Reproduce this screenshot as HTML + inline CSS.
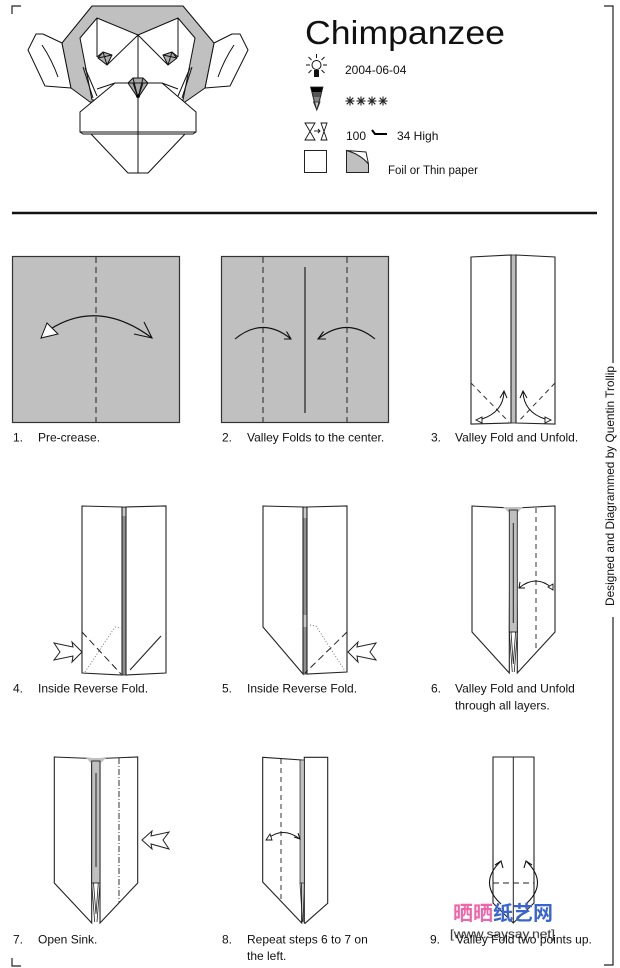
<!DOCTYPE html>
<html><head><meta charset="utf-8">
<style>
html,body{margin:0;padding:0;background:#fff;}
svg{display:block;}
text{font-family:"Liberation Sans",Arial,sans-serif;fill:#111;}
</style></head>
<body>
<svg width="620" height="968" viewBox="0 0 620 968" xmlns="http://www.w3.org/2000/svg">
<rect width="620" height="968" fill="#fff"/>

<!-- corner marks and frame -->
<g stroke="#222" stroke-width="1.2" fill="none">
<polyline points="21,6 12,6 12,14"/>
<polyline points="12,958 12,966 21,966"/>
<polyline points="604,6 613,6 613,363"/>
<polyline points="613,617 613,965 604,965"/>
</g>
<text transform="translate(614,606) rotate(-90)" font-size="12" textLength="240" lengthAdjust="spacingAndGlyphs">Designed and Diagrammed by Quentin Trollip</text>

<!-- ===== FACE ===== -->
<g stroke="#111" stroke-width="1" stroke-linejoin="round">
<polygon points="28,50 36,34 43,34 62,43 71,88 45,86" fill="#fff"/>
<path d="M42 45 Q52 60 58 77" fill="none"/>
<polygon points="248,50 240,34 232,34 214,43 205,88 230,86" fill="#fff"/>
<path d="M234 45 Q224 60 218 77" fill="none"/>
<polygon points="92,6 183,6 214,43 205,88 185,102 90,102 71,88 62,43" fill="#c0c0c0"/>
<polygon points="97,18 138,35 178,18 195,38 183,100 92,100 80,38" fill="#fff"/>
<line x1="97" y1="18" x2="97" y2="57"/>
<line x1="178" y1="18" x2="178" y2="57"/>
<line x1="138" y1="35" x2="107" y2="65"/>
<line x1="138" y1="35" x2="168" y2="65"/>
<line x1="97" y1="57" x2="103" y2="52"/>
<line x1="178" y1="57" x2="172" y2="52"/>
<line x1="85" y1="68" x2="97" y2="96"/>
<line x1="83" y1="67" x2="93" y2="98"/>
<line x1="190" y1="68" x2="178" y2="96"/>
<line x1="192" y1="67" x2="182" y2="98"/>
<line x1="115" y1="83" x2="97" y2="89"/>
<line x1="162" y1="83" x2="178" y2="89"/>
<polygon points="98,58 103,52 112,55 107,65" fill="#b0b0b0"/>
<line x1="103" y1="52" x2="107" y2="65"/>
<line x1="98" y1="58" x2="112" y2="55"/>
<polygon points="177,58 172,52 163,55 168,65" fill="#b0b0b0"/>
<line x1="172" y1="52" x2="168" y2="65"/>
<line x1="177" y1="58" x2="163" y2="55"/>
<polygon points="115,83 162,83 196,112 196,132 80,132 80,112" fill="#fff"/>
<polygon points="80,132 196,132 193,134 83,134" fill="#fff"/>
<polygon points="91,134 185,134 148,173 128,173" fill="#fff"/>
<line x1="138" y1="35" x2="138" y2="173"/>
<polygon points="128,83 133,78 143,78 148,83 138,98" fill="#aaa"/>
<polyline points="128,83 148,83" fill="none"/>
<polyline points="133,78 138,98 143,78" fill="none"/>
<polyline points="133,83 138,98 143,83" fill="none"/>
<circle cx="138" cy="96" r="1.5" fill="#000"/>
</g>

<!-- ===== HEADER ===== -->
<text x="305" y="44" font-size="33" textLength="200" lengthAdjust="spacingAndGlyphs">Chimpanzee</text>
<!-- bulb -->
<g stroke="#111" stroke-width="1" fill="none">
<circle cx="316.5" cy="65" r="4.5" fill="#fff"/>
<line x1="316.5" y1="54" x2="316.5" y2="58"/>
<line x1="306" y1="65" x2="310" y2="65"/>
<line x1="323" y1="65" x2="327" y2="65"/>
<line x1="308.5" y1="57" x2="311.5" y2="60"/>
<line x1="324.5" y1="57" x2="321.5" y2="60"/>
<line x1="308.5" y1="73" x2="311.5" y2="70"/>
<line x1="324.5" y1="73" x2="321.5" y2="70"/>
</g>
<rect x="314" y="70" width="5" height="7" fill="#111"/>
<text x="345" y="74" font-size="12">2004-06-04</text>
<!-- funnel -->
<polygon points="310.5,87 323,87 322,92 311.5,92" fill="#000"/>
<polygon points="311.5,92 322,92 321,97 312.5,97" fill="#555"/>
<polygon points="312.5,97 321,97 320,102 313.5,102" fill="#888"/>
<polygon points="313.5,102 320,102 316.8,110" fill="#c8c8c8" stroke="#222" stroke-width="0.8"/>
<polygon points="310.5,87 323,87 316.8,110" fill="none" stroke="#222" stroke-width="0.8"/>
<!-- asterisks -->
<g stroke="#222" stroke-width="1.1">
<g transform="translate(350,101)"><line x1="-4.5" y1="0" x2="4.5" y2="0"/><line x1="0" y1="-4.5" x2="0" y2="4.5"/><line x1="-3.3" y1="-3.3" x2="3.3" y2="3.3"/><line x1="-3.3" y1="3.3" x2="3.3" y2="-3.3"/></g>
<g transform="translate(361,101)"><line x1="-4.5" y1="0" x2="4.5" y2="0"/><line x1="0" y1="-4.5" x2="0" y2="4.5"/><line x1="-3.3" y1="-3.3" x2="3.3" y2="3.3"/><line x1="-3.3" y1="3.3" x2="3.3" y2="-3.3"/></g>
<g transform="translate(372,101)"><line x1="-4.5" y1="0" x2="4.5" y2="0"/><line x1="0" y1="-4.5" x2="0" y2="4.5"/><line x1="-3.3" y1="-3.3" x2="3.3" y2="3.3"/><line x1="-3.3" y1="3.3" x2="3.3" y2="-3.3"/></g>
<g transform="translate(383,101)"><line x1="-4.5" y1="0" x2="4.5" y2="0"/><line x1="0" y1="-4.5" x2="0" y2="4.5"/><line x1="-3.3" y1="-3.3" x2="3.3" y2="3.3"/><line x1="-3.3" y1="3.3" x2="3.3" y2="-3.3"/></g>
</g>
<!-- hourglasses -->
<g stroke="#111" stroke-width="0.9" fill="#fff">
<path d="M305 123 H315 L305 140 H315 Z"/>
<path d="M321 123 H327 L321 140 H327 Z"/>
<line x1="314" y1="131" x2="320" y2="131"/>
<polyline points="318,129 320,131 318,133" fill="none"/>
</g>
<text x="346" y="140" font-size="12">100</text>
<polyline points="372,130 375,134 387,134" fill="none" stroke="#000" stroke-width="2"/>
<text x="397" y="140" font-size="12">34 High</text>
<!-- paper icons -->
<rect x="304.5" y="150.5" width="22" height="22" fill="#fff" stroke="#222" stroke-width="1"/>
<path d="M346.5 150.5 Q360 154 368.5 164 V172.5 H346.5 Z" fill="#c0c0c0" stroke="#222" stroke-width="1"/>
<path d="M346.5 150.5 L366 152 L368.5 164 Q360 154 346.5 150.5 Z" fill="#fff" stroke="#222" stroke-width="1"/>
<text x="388" y="174" font-size="11.5">Foil or Thin paper</text>

<!-- rule -->
<line x1="12" y1="213" x2="597" y2="213" stroke="#111" stroke-width="2.5"/>

<!-- ===== STEP 1 ===== -->
<rect x="12.5" y="256.5" width="167" height="166" fill="#c0c0c0" stroke="#333" stroke-width="1.2"/>
<line x1="96" y1="257" x2="96" y2="422" stroke="#333" stroke-width="1.1" stroke-dasharray="6,4"/>
<path d="M49 330 Q98 298 152 338" fill="none" stroke="#111" stroke-width="1.2"/>
<polygon points="41,338 47,323 58,334" fill="#fff" stroke="#111" stroke-width="1"/>
<polyline points="144,322 152,338 134,334" fill="none" stroke="#111" stroke-width="1.1"/>
<text x="13" y="441.5" font-size="12">1.</text>
<text x="38" y="441.5" font-size="12">Pre-crease.</text>

<!-- ===== STEP 2 ===== -->
<rect x="221.5" y="256.5" width="167" height="166" fill="#c0c0c0" stroke="#333" stroke-width="1.2"/>
<line x1="263" y1="257" x2="263" y2="422" stroke="#333" stroke-width="1.1" stroke-dasharray="6,4"/>
<line x1="347" y1="257" x2="347" y2="422" stroke="#333" stroke-width="1.1" stroke-dasharray="6,4"/>
<line x1="305" y1="267" x2="305" y2="413" stroke="#222" stroke-width="1.2"/>
<path d="M235 339 Q263 316 291 339" fill="none" stroke="#111" stroke-width="1.1"/>
<polyline points="286.5,331.5 291,339 284,339" fill="none" stroke="#111" stroke-width="1.1"/>
<path d="M375 339 Q347 316 318 339" fill="none" stroke="#111" stroke-width="1.1"/>
<polyline points="323.5,331.5 318,339 326,339" fill="none" stroke="#111" stroke-width="1.1"/>
<text x="222" y="441.5" font-size="12">2.</text>
<text x="247" y="441.5" font-size="12">Valley Folds to the center.</text>

<!-- ===== STEP 3 ===== -->
<rect x="510.5" y="255" width="5.5" height="168" fill="#bdbdbd" stroke="#222" stroke-width="0.8"/>
<polygon points="471,257 511,255 511,423 471,424" fill="#fff" stroke="#222" stroke-width="1.1"/>
<polygon points="516,255 555,257 555,424 516,423" fill="#fff" stroke="#222" stroke-width="1.1"/>
<line x1="471" y1="383" x2="509" y2="422" stroke="#333" stroke-width="1" stroke-dasharray="5,4"/>
<line x1="555" y1="383" x2="518" y2="422" stroke="#333" stroke-width="1" stroke-dasharray="5,4"/>
<path d="M482 419 Q503 412 504 392" fill="none" stroke="#111" stroke-width="1"/>
<polyline points="500,398 504,391 507,398" fill="none" stroke="#111" stroke-width="1"/>
<polygon points="476,420 482,417 482,423" fill="#fff" stroke="#111" stroke-width="0.9"/>
<path d="M545 419 Q524 412 523 392" fill="none" stroke="#111" stroke-width="1"/>
<polyline points="520,398 523,391 527,398" fill="none" stroke="#111" stroke-width="1"/>
<polygon points="551,420 545,417 545,423" fill="#fff" stroke="#111" stroke-width="0.9"/>
<text x="431" y="441.5" font-size="12">3.</text>
<text x="455" y="441.5" font-size="12">Valley Fold and Unfold.</text>

<!-- ===== STEP 4 ===== -->
<rect x="121.5" y="507" width="5" height="168" fill="#8f8f8f" stroke="#222" stroke-width="0.8"/>
<rect x="122" y="508" width="4" height="8" fill="#c8c8c8"/>
<polygon points="82,506 122,507 122,675 82,673" fill="#fff" stroke="#222" stroke-width="1.1"/>
<polygon points="126,507 166,506 166,673 126,675" fill="#fff" stroke="#222" stroke-width="1.1"/>
<line x1="82" y1="632" x2="121" y2="674" stroke="#222" stroke-width="1" stroke-dasharray="7,4"/>
<polyline points="85,672 115,627 121,628" fill="none" stroke="#777" stroke-width="1" stroke-dasharray="1,2"/>
<line x1="130" y1="670" x2="161" y2="636" stroke="#222" stroke-width="1.1"/>
<polygon points="82,652 72,642 73,647 54,643 60,652 54,660 73,656 72,662" fill="#fff" stroke="#222" stroke-width="1"/>
<text x="13" y="692.5" font-size="12">4.</text>
<text x="38" y="692.5" font-size="12">Inside Reverse Fold.</text>

<!-- ===== STEP 5 ===== -->
<rect x="303" y="507" width="4" height="167" fill="#8f8f8f" stroke="#222" stroke-width="0.8"/>
<rect x="303.5" y="508" width="3" height="10" fill="#c8c8c8"/>
<rect x="303.5" y="615" width="3" height="12" fill="#c8c8c8"/>
<polygon points="263,506 303,507 303,674 263,627" fill="#fff" stroke="#222" stroke-width="1.1"/>
<polygon points="307,507 347,506 347,672 307,674" fill="#fff" stroke="#222" stroke-width="1.1"/>
<line x1="347" y1="632" x2="305" y2="673" stroke="#222" stroke-width="1" stroke-dasharray="7,4"/>
<polyline points="310,625 316,626 345,671" fill="none" stroke="#777" stroke-width="1" stroke-dasharray="1,2"/>
<polygon points="348,652 358,642 357,647 376,643 370,652 376,660 357,656 358,662" fill="#fff" stroke="#222" stroke-width="1"/>
<text x="222" y="692.5" font-size="12">5.</text>
<text x="247" y="692.5" font-size="12">Inside Reverse Fold.</text>

<!-- ===== STEP 6 ===== -->
<polygon points="472,506 510,508 509.3,632 509.3,673 472,632" fill="#fff" stroke="#222" stroke-width="1.1"/>
<polygon points="516,508 555,506 555,632 517.3,673 517.3,632" fill="#fff" stroke="#222" stroke-width="1.1"/>
<polygon points="503,507 523,507 517.3,513 509.3,513" fill="#c0c0c0"/>
<rect x="509.3" y="510" width="8" height="122" fill="#c0c0c0" stroke="#222" stroke-width="0.9"/>
<line x1="513.3" y1="523" x2="513.3" y2="623" stroke="#222" stroke-width="1"/>
<g stroke="#222" stroke-width="0.8" fill="none">
<polyline points="509.3,632 512.3,672"/>
<polyline points="517.3,632 514.3,672"/>
<polyline points="511,632 513.3,664 515.6,632"/>
</g>
<line x1="536" y1="508" x2="536" y2="652" stroke="#333" stroke-width="1" stroke-dasharray="5,4"/>
<path d="M519 588 Q536 574 552 588" fill="none" stroke="#111" stroke-width="1"/>
<polyline points="520,582 519,588 525,588" fill="none" stroke="#111" stroke-width="1"/>
<polygon points="553,590 548,587 553,584" fill="#fff" stroke="#111" stroke-width="0.9"/>
<text x="431" y="692.5" font-size="12">6.</text>
<text x="455" y="692.5" font-size="12">Valley Fold and Unfold</text>
<text x="455" y="709.5" font-size="12">through all layers.</text>

<!-- ===== STEP 7 ===== -->
<polygon points="54.3,757 91.7,758.5 91.7,923 54.3,883" fill="#fff" stroke="#222" stroke-width="1.1"/>
<polygon points="100,758.5 137.7,757 137.7,883 100,923" fill="#fff" stroke="#222" stroke-width="1.1"/>
<polygon points="86,758 106,758 100,764 91.7,764" fill="#c0c0c0"/>
<rect x="91.7" y="761" width="8.3" height="122" fill="#c0c0c0" stroke="#222" stroke-width="0.9"/>
<line x1="96" y1="773" x2="96" y2="867" stroke="#222" stroke-width="1"/>
<g stroke="#222" stroke-width="0.8" fill="none">
<polyline points="91.7,883 94.7,922"/>
<polyline points="100,883 97,922"/>
<polyline points="93.5,883 96,914 98.3,883"/>
</g>
<line x1="119" y1="758" x2="119" y2="903" stroke="#333" stroke-width="1" stroke-dasharray="6,2,1,2"/>
<polygon points="142,840 152,831 151,836 169,832 163,840 169,849 151,844 152,849" fill="#fff" stroke="#222" stroke-width="1"/>
<text x="13" y="943.5" font-size="12">7.</text>
<text x="38" y="943.5" font-size="12">Open Sink.</text>

<!-- ===== STEP 8 ===== -->
<polygon points="304.3,757.3 327.7,757.3 327.7,903.3 305,923.3 304.3,923" fill="#fff" stroke="#222" stroke-width="1.1"/>
<polygon points="262.7,757.3 301.7,760 301.7,923 262.7,882" fill="#fff" stroke="#222" stroke-width="1.1"/>
<rect x="300" y="760" width="4.3" height="123" fill="#c0c0c0" stroke="#222" stroke-width="0.7"/>
<g stroke="#222" stroke-width="0.8" fill="none">
<polyline points="300,883 302.5,922"/>
<polyline points="304.3,883 303,922"/>
</g>
<line x1="281" y1="759" x2="281" y2="903" stroke="#333" stroke-width="1" stroke-dasharray="5,4"/>
<path d="M267 839 Q283 826 300 839" fill="none" stroke="#111" stroke-width="1"/>
<polygon points="266,840 270,834 272,840" fill="#fff" stroke="#111" stroke-width="0.9"/>
<polyline points="294,837 300,839 298,833" fill="none" stroke="#111" stroke-width="1"/>
<text x="222" y="943.5" font-size="12">8.</text>
<text x="247" y="943.5" font-size="12">Repeat steps 6 to 7 on</text>
<text x="247" y="960" font-size="12">the left.</text>

<!-- ===== STEP 9 ===== -->
<polygon points="493,757 534,757 534,903 513.3,923 493,903" fill="#fff" stroke="#222" stroke-width="1.1"/>
<line x1="513.3" y1="757" x2="513.3" y2="923" stroke="#222" stroke-width="1"/>
<line x1="493" y1="883" x2="534" y2="883" stroke="#222" stroke-width="1" stroke-dasharray="6,4"/>
<path d="M501 904 Q478 883 501 861" fill="none" stroke="#111" stroke-width="1.1"/>
<polyline points="495,865 501,861 503,868" fill="none" stroke="#111" stroke-width="1.1"/>
<path d="M526 904 Q549 883 526 861" fill="none" stroke="#111" stroke-width="1.1"/>
<polyline points="532,865 526,861 524,868" fill="none" stroke="#111" stroke-width="1.1"/>
<text x="453" y="920" font-size="20" font-weight="bold" style="font-family:'Noto Sans CJK SC','WenQuanYi Zen Hei',sans-serif;"><tspan fill="#f064a8">晒晒</tspan><tspan fill="#3b64d0">纸艺网</tspan></text>
<text x="450" y="938" font-size="12" fill="#c8c8c8" stroke="#999" stroke-width="0.4" textLength="105" lengthAdjust="spacingAndGlyphs">[www.saysay.net]</text>
<text x="430" y="943.5" font-size="12">9.</text>
<text x="456" y="943.5" font-size="12">Valley Fold two points up.</text>
</svg>
</body></html>
